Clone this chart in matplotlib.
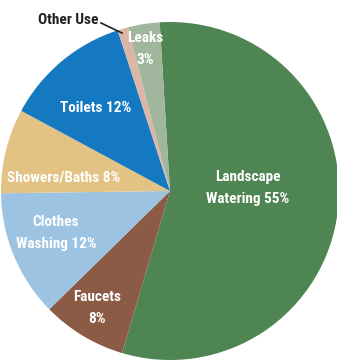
import matplotlib
matplotlib.use("Agg")
import matplotlib.pyplot as plt
from matplotlib import font_manager

# Household water use shares (%)
categories = ["Landscape Watering", "Faucets", "Clothes Washing", "Showers/Baths",
              "Toilets", "Other Use", "Leaks"]
values = [55, 8, 12, 8, 12, 1, 3]
labels = ["Landscape\nWatering 55%", "Faucets\n8%", "Clothes\nWashing 12%",
          "Showers/Baths 8%", "Toilets 12%", "Other Use", "Leaks\n3%"]
colors = ["#4f8553", "#8c5b46", "#9cc3e1", "#e3c384", "#1479c0", "#dbb5a5", "#a0b69d"]

W, H, DPI = 337, 360, 100
CX, CY, R = 170, 191, 169  # pie centre and radius in pixels


def pick_condensed_font():
    """Choose a narrow bold face if one is installed."""
    entries = font_manager.fontManager.ttflist
    names = {f.name for f in entries}
    for name in ["Roboto Condensed", "Liberation Sans Narrow", "Open Sans Condensed",
                 "Noto Sans Condensed", "Arial Narrow"]:
        if name in names:
            return dict(family=[name, "DejaVu Sans"], fontstretch="normal", fontsize=11)
    for f in entries:
        if f.name == "DejaVu Sans" and "condensed" in str(f.stretch):
            return dict(family=["DejaVu Sans"], fontstretch="condensed", fontsize=10.5)
    return dict(family=["Lato", "DejaVu Sans"], fontstretch="normal", fontsize=10)


def px(x, y):
    """Pixel position (from top-left) to data units of the pie axes."""
    return (x - CX) / R, (CY - y) / R


fig = plt.figure(figsize=(W / DPI, H / DPI), dpi=DPI)
ax = fig.add_axes([0, 0, 1, 1])

ax.pie(values, colors=colors, startangle=93.5, counterclock=False, radius=1,
       center=(0, 0), wedgeprops=dict(linewidth=0), frame=True)
ax.set_xlim(-CX / R, (W - CX) / R)
ax.set_ylim(-(H - CY) / R, CY / R)
ax.set_aspect("auto")
ax.axis("off")

font = dict(fontweight="bold", ha="center", va="center", linespacing=1.7)
font.update(pick_condensed_font())

label_pos = {
    "Landscape Watering": (248, 188),
    "Faucets": (97, 308),
    "Clothes Washing": (56, 233),
    "Showers/Baths": (64, 177),
    "Toilets": (96, 108),
    "Leaks": (145, 49),
}
for cat, lab in zip(categories, labels):
    if cat in label_pos:
        ax.text(*px(*label_pos[cat]), lab, color="white", **font)

# Other Use is labelled outside with a leader line
ax.text(*px(68, 20), "Other Use", color="#231f20", **font)
ax.plot(*zip(px(101, 23), px(122, 33)), color="#231f20", lw=1.2)

fig.savefig("out.png", dpi=DPI)
